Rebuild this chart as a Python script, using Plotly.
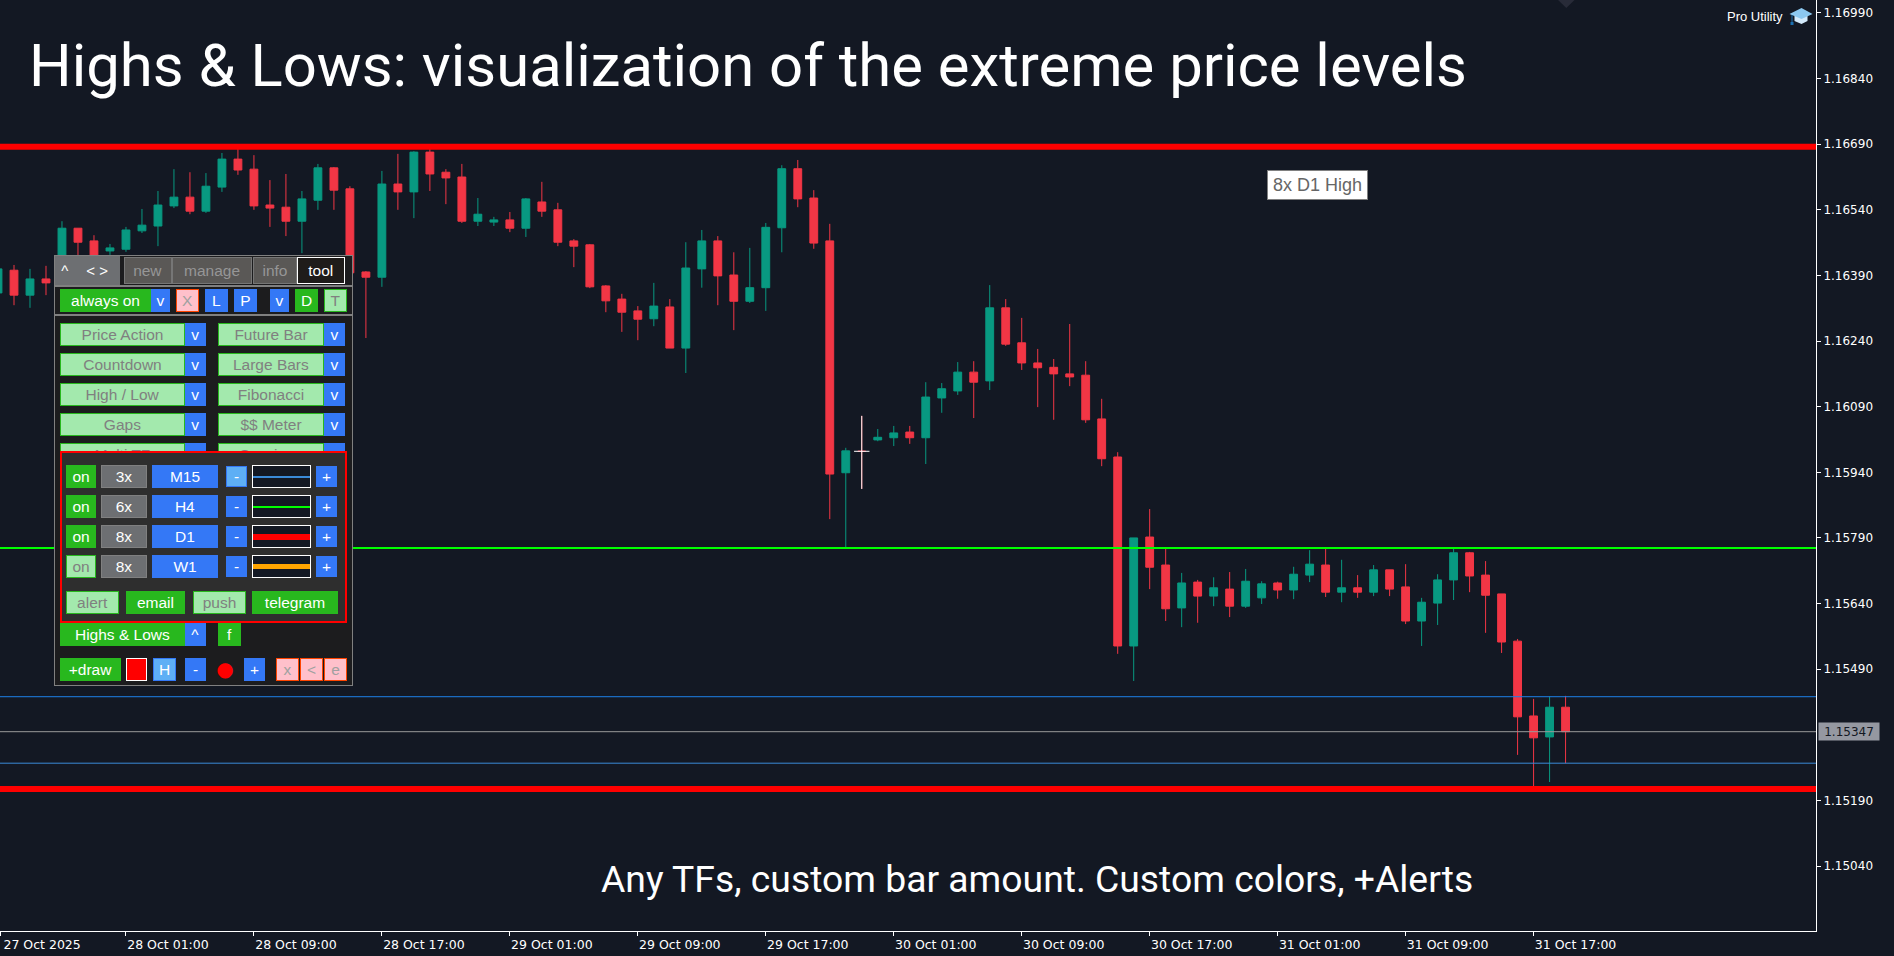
import pandas as pd
import plotly.graph_objects as go

# ---------- data (EURUSD-like H1 candles) ----------
start_time = "2025-10-27 17:00"
opens = [1.16350,1.16402,1.16345,1.16382,1.16373,1.16498,1.16469,1.16446,1.16450,1.16492,
         1.16503,1.16549,1.16569,1.16537,1.16592,1.16656,1.16633,1.16551,1.16546,1.16514,
         1.16562,1.16636,1.16588,1.16398,1.16386,1.16599,1.16581,1.16672,1.16626,1.16615,
         1.16514,1.16512,1.16517,1.16498,1.16558,1.16540,1.16469,1.16460,1.16366,1.16336,
         1.16309,1.16291,1.16318,1.16224,1.16405,1.16469,1.16391,1.16331,1.16362,1.16499,
         1.16634,1.16567,1.16469,1.15939,1.15988,1.16014,1.16019,1.16032,1.16019,1.16110,
         1.16126,1.16169,1.16149,1.16316,1.16236,1.16190,1.16180,1.16165,1.16162,1.16062,
         1.15975,1.15543,1.15792,1.15728,1.15630,1.15689,1.15657,1.15673,1.15634,1.15653,
         1.15687,1.15671,1.15705,1.15728,1.15666,1.15676,1.15666,1.15717,1.15678,1.15600,
         1.15641,1.15694,1.15756,1.15705,1.15662,1.15554,1.15383,1.15335,1.15403]
highs = [1.16410,1.16414,1.16405,1.16412,1.16514,1.16498,1.16482,1.16462,1.16501,1.16542,
         1.16583,1.16633,1.16626,1.16624,1.16670,1.16681,1.16665,1.16608,1.16622,1.16583,
         1.16645,1.16638,1.16594,1.16400,1.16629,1.16668,1.16674,1.16684,1.16633,1.16645,
         1.16567,1.16524,1.16535,1.16567,1.16604,1.16556,1.16473,1.16462,1.16368,1.16348,
         1.16320,1.16373,1.16336,1.16466,1.16494,1.16480,1.16443,1.16453,1.16510,1.16642,
         1.16654,1.16585,1.16508,1.15996,1.16069,1.16039,1.16046,1.16046,1.16146,1.16144,
         1.16192,1.16194,1.16368,1.16336,1.16293,1.16222,1.16199,1.16279,1.16194,1.16108,
         1.15986,1.15790,1.15856,1.15769,1.15710,1.15694,1.15700,1.15712,1.15719,1.15691,
         1.15690,1.15724,1.15762,1.15767,1.15740,1.15705,1.15728,1.15717,1.15730,1.15653,
         1.15707,1.15765,1.15758,1.15737,1.15662,1.15559,1.15422,1.15427,1.15429]
lows = [1.16341,1.16322,1.16316,1.16345,1.16364,1.16434,1.16410,1.16437,1.16444,1.16487,
        1.16457,1.16544,1.16530,1.16533,1.16581,1.16620,1.16540,1.16501,1.16480,1.16441,
        1.16540,1.16540,1.16396,1.16247,1.16364,1.16540,1.16521,1.16583,1.16553,1.16510,
        1.16503,1.16503,1.16489,1.16478,1.16524,1.16457,1.16409,1.16361,1.16306,1.16261,
        1.16242,1.16274,1.16224,1.16167,1.16362,1.16322,1.16265,1.16327,1.16309,1.16443,
        1.16546,1.16451,1.15833,1.15769,1.15902,1.16011,1.16000,1.16005,1.15959,1.16076,
        1.16117,1.16064,1.16128,1.16229,1.16174,1.16089,1.16060,1.16137,1.16053,1.15954,
        1.15525,1.15463,1.15673,1.15600,1.15586,1.15596,1.15634,1.15609,1.15630,1.15639,
        1.15651,1.15650,1.15689,1.15655,1.15643,1.15653,1.15657,1.15657,1.15593,1.15543,
        1.15591,1.15648,1.15666,1.15573,1.15527,1.15294,1.15214,1.15232,1.15275]
closes = [1.16405,1.16345,1.16382,1.16373,1.16498,1.16466,1.16425,1.16453,1.16494,1.16505,
          1.16551,1.16569,1.16537,1.16594,1.16656,1.16631,1.16549,1.16544,1.16514,1.16565,
          1.16636,1.16585,1.16396,1.16386,1.16599,1.16581,1.16672,1.16622,1.16613,1.16514,
          1.16530,1.16517,1.16498,1.16565,1.16537,1.16466,1.16457,1.16364,1.16332,1.16306,
          1.16290,1.16320,1.16224,1.16407,1.16469,1.16389,1.16331,1.16362,1.16500,1.16634,
          1.16565,1.16464,1.15936,1.15989,1.15988,1.16020,1.16030,1.16019,1.16112,1.16131,
          1.16169,1.16146,1.16316,1.16233,1.16190,1.16179,1.16165,1.16158,1.16060,1.15971,
          1.15543,1.15790,1.15723,1.15628,1.15687,1.15657,1.15676,1.15634,1.15691,1.15685,
          1.15671,1.15707,1.15730,1.15666,1.15676,1.15666,1.15717,1.15673,1.15600,1.15643,
          1.15694,1.15756,1.15703,1.15659,1.15552,1.15381,1.15333,1.15403,1.15347]

cursor_time = ["2025-10-29 23:00"]
cursor_price, cursor_high, cursor_low = [1.15988], [1.16069], [1.15902]

level_d1_high = 1.16684
level_d1_low = 1.15216
level_h4 = 1.15767
level_m15_high = 1.15427
level_m15_low = 1.15275
last_price = 1.15347

y_ticks = [1.16990,1.16840,1.16690,1.16540,1.16390,1.16240,1.16090,1.15940,1.15790,1.15640,1.15490,1.15190,1.15040]
x_ticks = ["2025-10-27 17:08","2025-10-28 01:00","2025-10-28 09:00","2025-10-28 17:00","2025-10-29 01:00",
           "2025-10-29 09:00","2025-10-29 17:00","2025-10-30 01:00","2025-10-30 09:00","2025-10-30 17:00",
           "2025-10-31 01:00","2025-10-31 09:00","2025-10-31 17:00"]
x_labels = ["27 Oct 2025","28 Oct 01:00","28 Oct 09:00","28 Oct 17:00","29 Oct 01:00","29 Oct 09:00",
            "29 Oct 17:00","30 Oct 01:00","30 Oct 09:00","30 Oct 17:00","31 Oct 01:00","31 Oct 09:00","31 Oct 17:00"]

# ---------- style ----------
BG = "#131823"
UP = "#089981"
DOWN = "#F23645"
GREEN = "#28B81E"
LIGHT = "#A3E9AD"
BLUE = "#3478F6"
SKY = "#5EAFF5"
PINK = "#FFC0CB"
GREY = "#6D6F72"
W, H = 1894, 956
PW, PH = 1816.5, 931
FONT = "Liberation Sans"

times = pd.date_range(start_time, periods=len(opens), freq="h")

fig = go.Figure()
fig.add_trace(go.Candlestick(x=times, open=opens, high=highs, low=lows, close=closes,
                             whiskerwidth=0, hoverinfo="skip", showlegend=False,
                             increasing=dict(line=dict(color=UP, width=1), fillcolor=UP),
                             decreasing=dict(line=dict(color=DOWN, width=1), fillcolor=DOWN)))
fig.add_trace(go.Scatter(x=cursor_time, y=cursor_price, mode="markers", hoverinfo="skip", showlegend=False,
                         marker=dict(symbol="line-ew", size=11, color="#FFFFFF", line=dict(color="#FFFFFF", width=1)),
                         error_y=dict(type="data", symmetric=False,
                                      array=[cursor_high[0] - cursor_price[0]],
                                      arrayminus=[cursor_price[0] - cursor_low[0]],
                                      color="#FFFFFF", thickness=1, width=0)))

shapes = []
for lvl, col, wd in [(level_d1_high, "#FF0000", 6), (level_d1_low, "#FF0000", 6), (level_h4, "#00FF00", 2),
                     (level_m15_high, "#1E80E8", 1), (level_m15_low, "#3A8AD8", 1), (last_price, "#9A9A9A", 1)]:
    shapes.append(dict(type="line", xref="paper", x0=0, x1=1, yref="y", y0=lvl, y1=lvl,
                       line=dict(color=col, width=wd), layer="above"))

def px(x): return x / PW
def py(y): return 1 - y / PH

anns = []
def box(x0, y0, x1, y1, fill=None, border=None, bw=0, text=" ", color="#FFFFFF", size=15.5, family=None):
    anns.append(dict(xref="paper", yref="paper", x=px(x0), y=py(y0 - 1), xanchor="left", yanchor="top",
                     width=max(x1 - x0 - 2 * bw, 1), height=max(y1 - y0 - 2 * bw, 1), borderpad=0,
                     borderwidth=bw, bordercolor=border or "rgba(0,0,0,0)", bgcolor=fill or "rgba(0,0,0,0)",
                     text=text, showarrow=False, align="center", valign="middle",
                     font=dict(family=family or FONT, size=size, color=color)))

def on(x0, y0, x1, y1, t, **k): box(x0, y0, x1, y1, GREEN, None, 0, t, "#FFFFFF", **k)
def off(x0, y0, x1, y1, t, **k): box(x0, y0, x1, y1, LIGHT, GREEN, 1, t, "#808080", **k)
def blue(x0, y0, x1, y1, t, **k): box(x0, y0, x1, y1, BLUE, None, 0, t, "#FFFFFF", **k)
def pink(x0, y0, x1, y1, t, **k): box(x0, y0, x1, y1, PINK, "#FF4500", 1, t, "#A0A0A0", **k)

# panel
box(54, 256, 353, 687, "#1C1C1E", "#808080", 1)
box(55, 257, 74.5, 286, GREY, None, 0, "^", size=15)
box(75, 257, 119.5, 286, GREY, None, 0, "< >", size=15)
for a, b, t in [(124, 171.5, "new"), (172, 252, "manage"), (253, 297, "info")]:
    box(a, 258, b, 285, "#5A5856", "#767676", 1, t, "#969696")
box(297.5, 258, 345, 285, "#1F1C1A", "#FFFFFF", 1, "tool")
box(54, 286, 353, 287.5, "#808080")
box(54, 314.5, 353, 316, "#808080")
on(60, 290, 151, 313, "always on")
blue(151, 290, 170, 313, "v")
pink(176, 290, 199, 313, "X")
blue(205, 290, 228, 313, "L")
blue(234, 290, 257, 313, "P")
blue(270, 290, 289, 313, "v")
on(295, 290, 318, 313, "D")
off(324, 290, 347, 313, "T")

rows = [(324, "Price Action", "Future Bar"), (354, "Countdown", "Large Bars"),
        (384, "High / Low", "Fibonacci"), (414, "Gaps", "$$ Meter"), (444, "Multi TF", "Sessions")]
for y, a, b in rows:
    off(60, y, 185, y + 23, a)
    blue(185.5, y, 206, y + 23, "v")
    off(218, y, 324, y + 23, b)
    blue(324, y, 345, y + 23, "v")

# highs & lows settings box
box(60, 452, 347, 624, "#2E2E2E", "#FF0000", 2)
tf_rows = [(466, "3x", "M15", "#3A8AD8", 2), (496, "6x", "H4", "#00FF00", 2),
           (526, "8x", "D1", "#FF0000", 6), (556, "8x", "W1", "#FFA500", 5)]
for i, (y, n, tf, col, lw) in enumerate(tf_rows):
    (off if i == 3 else on)(66, y, 96, y + 23, "on")
    box(101, y, 147, y + 23, GREY, "#808080", 1, n)
    blue(152, y, 218, y + 23, tf)
    if i == 0:
        box(226, y + 1, 247, y + 22, SKY, BLUE, 1, "-")
    else:
        blue(226, y + 1, 247, y + 22, "-")
    box(252, y, 311, y + 23, BG, "#FFFFFF", 1)
    top = y + 12 - (lw + 1) // 2
    box(253.5, top, 310, top + lw, col)
    blue(316, y + 1, 337, y + 22, "+")
off(66, 592, 119, 615, "alert")
on(126, 592, 185, 615, "email")
off(193, 592, 246, 615, "push")
on(252, 592, 338, 615, "telegram")

on(60, 624, 185, 647, "Highs &amp; Lows")
blue(185.5, 624, 206, 647, "^")
on(218, 624, 241, 647, "f")

on(60, 659, 121, 682, "+draw")
box(126, 659, 147, 682, "#FF0000", "#FFFFFF", 1)
box(153, 659, 176, 682, SKY, BLUE, 1, "H")
blue(185, 659, 206, 682, "-")
box(213, 658, 237, 682, None, None, 0, "●", "#FF0000", size=20, family="DejaVu Sans")
blue(244, 659, 265, 682, "+")
pink(276, 659, 299, 682, "x")
pink(300, 659, 323, 682, "&lt;")
pink(324, 659, 347, 682, "e")

# free text
def label(x, y, text, size, color="#FFFFFF", family="Roboto", xanchor="left", weight=None):
    f = dict(family=family, size=size, color=color)
    if weight:
        f["weight"] = weight
    anns.append(dict(xref="paper", yref="paper", x=px(x), y=py(y), xanchor=xanchor, yanchor="middle",
                     text=text, showarrow=False, borderpad=0, font=f))

label(28, 66, "Highs &amp; Lows: visualization of the extreme price levels", 59.8, weight=400)
label(600, 879, "Any TFs, custom bar amount. Custom colors, +Alerts", 37.3, weight=400)
label(1726, 16, "Pro Utility", 13, family="Liberation Sans")
box(1267, 171, 1368, 201, "#FFFFFF", "#808080", 1, "8x D1 High", "#666666", size=18)

# last price tag on the axis
anns.append(dict(xref="paper", yref="y", x=px(1819), y=last_price, xanchor="left", yanchor="middle",
                 width=60, height=17, bgcolor="#9598A1", text=f"{last_price:.5f}", showarrow=False, borderpad=0,
                 font=dict(family="DejaVu Sans", size=12, color="#131722")))

# graduation cap icon and chart-shift marker
def poly(pts, fill):
    d = "M " + " L ".join(f"{px(a)},{py(b)}" for a, b in pts) + " Z"
    shapes.append(dict(type="path", xref="paper", yref="paper", path=d, fillcolor=fill, line=dict(width=0), layer="above"))
poly([(1795, 16), (1795, 21), (1802, 24), (1808, 21), (1808, 16)], "#D3EAFB")
poly([(1790, 14), (1802, 8), (1813, 14), (1802, 19)], "#8CC8F0")
poly([(1792, 15), (1793, 15), (1793, 23), (1792, 23)], "#1A6FB0")
poly([(1791, 22), (1794, 22), (1794, 25), (1791, 25)], "#1A6FB0")
poly([(1558.5, 0), (1575, 0), (1566.7, 8)], "#282B38")

fig.update_layout(
    width=W, height=H, autosize=False,
    margin=dict(l=0, r=W - PW, t=0, b=H - PH, pad=0),
    paper_bgcolor=BG, plot_bgcolor=BG,
    hovermode=False, dragmode=False, showlegend=False,
    shapes=shapes, annotations=anns,
    xaxis=dict(type="date", rangeslider=dict(visible=False),
               range=["2025-10-27 17:07:30", "2025-11-01 10:39:22"],
               tickmode="array", tickvals=x_ticks, ticktext=x_labels,
               ticks="outside", ticklen=4, tickcolor="#FFFFFF", tickwidth=1,
               ticklabelshift=42, ticklabelstandoff=-2, ticklabeloverflow="allow",
               showgrid=False, zeroline=False, showline=True, linecolor="#FFFFFF", linewidth=1,
               tickfont=dict(family="DejaVu Sans", size=12.5, color="#FFFFFF")),
    yaxis=dict(side="right", range=[1.148914, 1.170197],
               tickmode="array", tickvals=y_ticks, ticktext=[f"{v:.5f}" for v in y_ticks],
               ticks="outside", ticklen=4, tickcolor="#FFFFFF", tickwidth=1,
               showgrid=False, zeroline=False, showline=True, linecolor="#FFFFFF", linewidth=1,
               tickfont=dict(family="DejaVu Sans", size=12, color="#FFFFFF")),
)

fig.write_html("out.html", config=dict(displayModeBar=False),
               post_script="document.body.style.margin='0';document.body.style.overflow='hidden';")
